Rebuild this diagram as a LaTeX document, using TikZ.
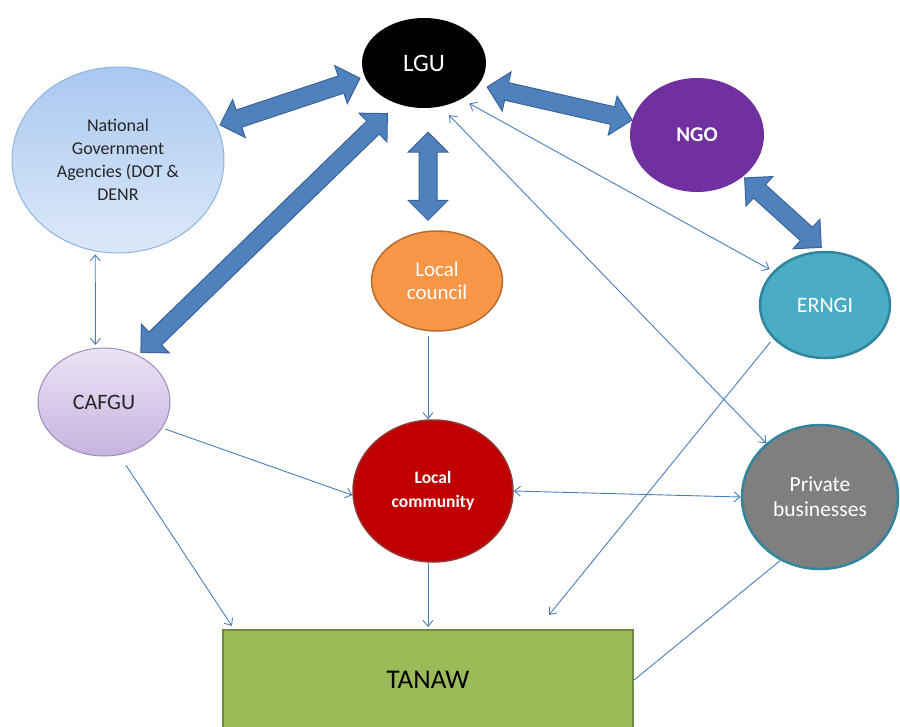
\documentclass[tikz,border=0pt]{standalone}
\usepackage{fontspec}
\setmainfont{Carlito}
\usetikzlibrary{shapes.geometric,arrows.meta,calc}
\definecolor{linkblue}{HTML}{4A7EBB}
\definecolor{fatfill}{HTML}{4F81BD}
\definecolor{fatdraw}{HTML}{3A6499}
\definecolor{ngoc}{HTML}{7030A0}
\definecolor{erngic}{HTML}{4BACC6}
\definecolor{tealb}{HTML}{31859C}
\definecolor{councilc}{HTML}{F79646}
\definecolor{councilb}{HTML}{B66D31}
\definecolor{commc}{HTML}{C00000}
\definecolor{commb}{HTML}{943634}
\definecolor{privc}{HTML}{7F7F7F}
\definecolor{tanawc}{HTML}{9BBB59}
\definecolor{tanawb}{HTML}{71893F}
\definecolor{ngatop}{HTML}{A9C8F0}
\definecolor{ngabot}{HTML}{DDE9F9}
\definecolor{ngab}{HTML}{8DB3E2}
\definecolor{caftop}{HTML}{EBE4F5}
\definecolor{cafbot}{HTML}{C6B3E0}
\definecolor{cafb}{HTML}{9D8BBA}
\definecolor{darktext}{HTML}{262626}
\newcommand\bigdarrow[4]{%
  \coordinate (ta) at ($(#1)!#3!(#2)$);
  \coordinate (tb) at ($(#2)!#4!(#1)$);
  \coordinate (ha) at ($(ta)!20pt!(tb)$);
  \coordinate (hb) at ($(tb)!20pt!(ta)$);
  \filldraw[fatarrow] (ta) -- ($(ha)!20pt!90:(tb)$) -- ($(ha)!9pt!90:(tb)$)
    -- ($(hb)!9pt!-90:(ta)$) -- ($(hb)!20pt!-90:(ta)$) -- (tb)
    -- ($(hb)!20pt!90:(ta)$) -- ($(hb)!9pt!90:(ta)$)
    -- ($(ha)!9pt!-90:(tb)$) -- ($(ha)!20pt!-90:(tb)$) -- cycle;}
\begin{document}
\begin{tikzpicture}[x=1pt,y=-1pt,
  ell/.style={ellipse, inner sep=0pt, align=center},
  lnk/.style={draw=linkblue, line width=0.9pt},
  fatarrow/.style={fill=fatfill, draw=fatdraw, line width=1pt, line join=miter},
  >={Straight Barb[length=6pt,width=10pt]}]
\useasboundingbox (0,0) rectangle (900,726);
\clip (0,0) rectangle (900,726);
% nodes
\node[ell, fill=black, minimum width=124, minimum height=90, text=white,
  font=\fontsize{25}{28}\selectfont] (lgu) at (424,63) {LGU};
\node[ell, top color=ngatop, bottom color=ngabot, draw=ngab, line width=1pt,
  minimum width=212, minimum height=186, text=darktext,
  font=\fontsize{18}{23}\selectfont] (natgov) at (118,160)
  {National\\Government\\Agencies (DOT \&\\DENR};
\node[ell, fill=ngoc, minimum width=134, minimum height=114, text=white,
  font=\fontsize{21}{25}\selectfont\bfseries] (ngo) at (697,135) {NGO};
\node[ell, fill=erngic, draw=tealb, line width=2.5pt, minimum width=130,
  minimum height=106, text=white, font=\fontsize{22}{25}\selectfont] (erngi) at (825,305) {ERNGI};
\node[ell, fill=councilc, draw=councilb, line width=1.5pt, minimum width=131,
  minimum height=100, text=white, font=\fontsize{21}{23}\selectfont] (lcouncil) at (437,281) {Local\\council};
\node[ell, top color=caftop, bottom color=cafbot, draw=cafb, line width=1pt,
  minimum width=132, minimum height=108, text=darktext,
  font=\fontsize{22}{25}\selectfont] (cafgu) at (104,402) {CAFGU};
\node[ell, fill=commc, draw=commb, line width=1.5pt, minimum width=160,
  minimum height=142, text=white, font=\fontsize{17.5}{24}\selectfont\bfseries] (lcomm) at (433,491) {Local\\community};
\node[ell, fill=privc, draw=tealb, line width=2.5pt, minimum width=156,
  minimum height=144, text=white, font=\fontsize{21.5}{25}\selectfont] (private) at (820,497) {Private\\businesses};
\node[rectangle, fill=tanawc, draw=tanawb, line width=2pt, minimum width=410,
  minimum height=100, inner sep=0pt, font=\fontsize{27}{30}\selectfont] (tanaw) at (428,680) {TANAW};
% thin connectors
\draw[lnk,<->, shorten <=3pt, shorten >=3pt] (natgov.-104) -- (cafgu.99);
\draw[lnk,->, shorten <=4pt] ([xshift=-9pt]lcouncil.south) -- ([xshift=-5pt]lcomm.north);
\draw[lnk,->, shorten <=3pt] (cafgu.-24) -- (lcomm.183);
\draw[lnk,->, shorten <=12pt] (cafgu.-74) -- ([xshift=10pt,yshift=3pt]tanaw.north west);
\draw[lnk,->] (lcomm.south -| tanaw.north) -- ([yshift=2pt]tanaw.north);
\draw[lnk,<->] (lcomm.east) -- (private.west);
\draw[lnk,<->, shorten <=4pt, shorten >=9pt] (erngi.147) -- (lgu.-44);
\draw[lnk,<->, shorten >=12pt] (private.135) -- (lgu.-69);
\draw[lnk,->, shorten <=4pt] (erngi.-147) -- ([xshift=121pt,yshift=14pt]tanaw.north);
\draw[lnk] (private.238) -- (tanaw.east);
% thick double arrows
\coordinate (v1) at ([xshift=4pt]lgu.south);
\coordinate (v2) at ([xshift=-9pt]lcouncil.north);
\bigdarrow{lgu.193}{natgov.19}{5pt}{3pt}
\bigdarrow{lgu.237}{cafgu.54}{14pt}{4pt}
\bigdarrow{v1}{v2}{24pt}{10pt}
\bigdarrow{lgu.-22}{ngo.167}{9pt}{0pt}
\bigdarrow{ngo.-42}{erngi.90}{2pt}{5pt}
\end{tikzpicture}
\end{document}
